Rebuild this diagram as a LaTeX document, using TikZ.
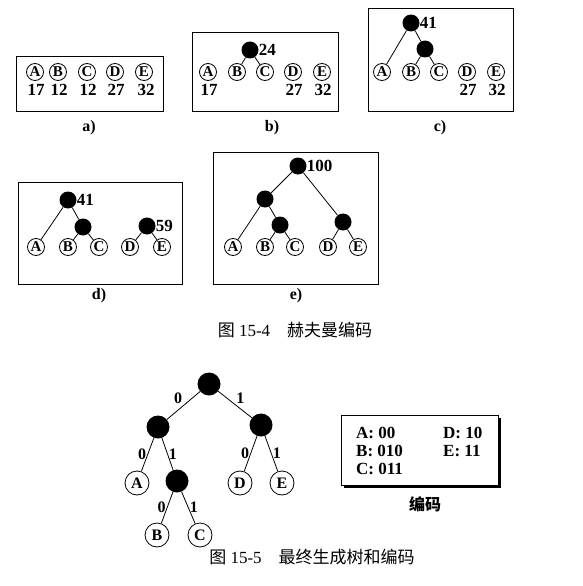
\documentclass[tikz,border=0pt]{standalone}
\usepackage{fontspec}
\setmainfont{Liberation Serif}
\newfontfamily\cjk{Noto Sans CJK SC}
\usetikzlibrary{calc}

\tikzset{
	leaf/.style = {draw, circle, line width=.8pt, minimum size=17pt, inner sep=0pt, font=\fontsize{15}{15}\selectfont\bfseries},
	hnode/.style = {circle, fill=black, minimum size=17pt, inner sep=0pt},
	bigleaf/.style = {leaf, minimum size=24pt, font=\fontsize{16}{16}\selectfont\bfseries},
	bighnode/.style = {hnode, minimum size=23pt},
	weight/.style = {font=\fontsize{17}{17}\selectfont\bfseries, inner sep=0pt},
	bit/.style = {font=\fontsize{16}{16}\selectfont\bfseries, inner sep=1pt},
	panel/.style = {draw, line width=1pt},
	sublabel/.style = {font=\fontsize{16}{16}\selectfont\bfseries},
	figcaption/.style = {font=\fontsize{17}{17}\selectfont},
	codetext/.style = {font=\fontsize{17}{17}\selectfont\bfseries, anchor=west, inner sep=0pt},
	link/.style = {line width=.8pt}
}

\begin{document}
\begin{tikzpicture}[x=1pt, y=-1pt]
		\useasboundingbox (0,0) rectangle (583,586);
		% a)
		\draw[panel] (16,57) rectangle (163,111);
		\node[leaf] (aA) at (35,72) {A};
		\node[leaf] (aB) at (58,72) {B};
		\node[leaf] (aC) at (87,72) {C};
		\node[leaf] (aD) at (115,72) {D};
		\node[leaf] (aE) at (144,72) {E};
		\node[weight] (aw1) at (36,90) {17};
		\node[weight] (aw2) at (59,90) {12};
		\node[weight] (aw3) at (88,90) {12};
		\node[weight] (aw4) at (116,90) {27};
		\node[weight] (aw5) at (146,90) {32};
		\node[sublabel] (alab) at (89,128) {a)};
		% b)
		\draw[panel] (192,33) rectangle (338,111);
		\node[leaf] (bA) at (208,72) {A};
		\node[leaf] (bB) at (237,72) {B};
		\node[leaf] (bC) at (265,72) {C};
		\node[leaf] (bD) at (293,72) {D};
		\node[leaf] (bE) at (322,72) {E};
		\node[hnode] (bBC) at (250,50) {};
		\node[weight, anchor=west] at (bBC.east) {24};
		\node[weight] (bw1) at (209,90) {17};
		\node[weight] (bw4) at (294,90) {27};
		\node[weight] (bw5) at (323,90) {32};
		\path[link] (bBC) edge (bB) (bBC) edge (bC);
		\node[sublabel] (blab) at (272,128) {b)};
		% c)
		\draw[panel] (368,9) rectangle (513,111);
		\node[leaf] (cA) at (382,72) {A};
		\node[leaf] (cB) at (411,72) {B};
		\node[leaf] (cC) at (439,72) {C};
		\node[leaf] (cD) at (467,72) {D};
		\node[leaf] (cE) at (496,72) {E};
		\node[hnode] (cABC) at (411,23) {};
		\node[hnode] (cBC) at (425,49) {};
		\node[weight, anchor=west] at (cABC.east) {41};
		\node[weight] (cw4) at (468,90) {27};
		\node[weight] (cw5) at (497,90) {32};
		\path[link] (cABC) edge (cA) (cABC) edge (cBC)
			(cBC) edge (cB) (cBC) edge (cC);
		\node[sublabel] (clab) at (440,128) {c)};
		% d)
		\draw[panel] (18,182) rectangle (182,284);
		\node[leaf] (dA) at (36,247) {A};
		\node[leaf] (dB) at (68,247) {B};
		\node[leaf] (dC) at (99,247) {C};
		\node[leaf] (dD) at (130,247) {D};
		\node[leaf] (dE) at (162,247) {E};
		\node[hnode] (dABC) at (68,200) {};
		\node[hnode] (dBC) at (83,227) {};
		\node[hnode] (dDE) at (147,226) {};
		\node[weight, anchor=west] at (dABC.east) {41};
		\node[weight, anchor=west] at (dDE.east) {59};
		\path[link] (dABC) edge (dA) (dABC) edge (dBC)
			(dBC) edge (dB) (dBC) edge (dC)
			(dDE) edge (dD) (dDE) edge (dE);
		\node[sublabel] (dlab) at (99,296) {d)};
		% e)
		\draw[panel] (213,152) rectangle (378,284);
		\node[leaf] (eA) at (233,247) {A};
		\node[leaf] (eB) at (265,247) {B};
		\node[leaf] (eC) at (295,247) {C};
		\node[leaf] (eD) at (328,247) {D};
		\node[leaf] (eE) at (358,247) {E};
		\node[hnode] (eroot) at (298,166) {};
		\node[hnode] (eABC) at (265,199) {};
		\node[hnode] (eBC) at (280,225) {};
		\node[hnode] (eDE) at (343,222) {};
		\node[weight, anchor=west] at (eroot.east) {100};
		\path[link] (eroot) edge (eABC) (eroot) edge (eDE)
			(eABC) edge (eA) (eABC) edge (eBC)
			(eBC) edge (eB) (eBC) edge (eC)
			(eDE) edge (eD) (eDE) edge (eE);
		\node[sublabel] (elab) at (296,296) {e)};
		\node[figcaption] (cap4) at (295,330) {{\cjk 图} 15-4\quad{\cjk 赫夫曼编码}};
		% final tree
		\node[bighnode] (root) at (209,384) {};
		\node[bighnode] (L) at (158,427) {};
		\node[bighnode] (R) at (261,425) {};
		\node[bighnode] (LR) at (177,481) {};
		\node[bigleaf] (fA) at (137,483) {A};
		\node[bigleaf] (fD) at (240,483) {D};
		\node[bigleaf] (fE) at (282,483) {E};
		\node[bigleaf] (fB) at (157,535) {B};
		\node[bigleaf] (fC) at (200,535) {C};
		\path[link] (root) edge node[bit, midway, above left] {0} (L)
			(root) edge node[bit, midway, above right] {1} (R)
			(L) edge node[bit, midway, left] {0} (fA)
			(L) edge node[bit, midway, right] {1} (LR)
			(R) edge node[bit, midway, left] {0} (fD)
			(R) edge node[bit, midway, right] {1} (fE)
			(LR) edge node[bit, midway, left] {0} (fB)
			(LR) edge node[bit, midway, right] {1} (fC);
		% code table
		\fill (344,418) rectangle (501,488);
		\draw[panel, fill=white] (341,415) rectangle (498,485);
		\node[codetext] (cdA) at (356,433) {A: 00};
		\node[codetext] (cdB) at (356,451) {B: 010};
		\node[codetext] (cdC) at (356,469) {C: 011};
		\node[codetext] (cdD) at (443,433) {D: 10};
		\node[codetext] (cdE) at (443,451) {E: 11};
		\node[font=\cjk\fontsize{16}{16}\selectfont\bfseries] (codecap) at (425,504) {编码};
		\node[figcaption] (cap5) at (312,557) {{\cjk 图} 15-5\quad{\cjk 最终生成树和编码}};
	\end{tikzpicture}
\end{document}
